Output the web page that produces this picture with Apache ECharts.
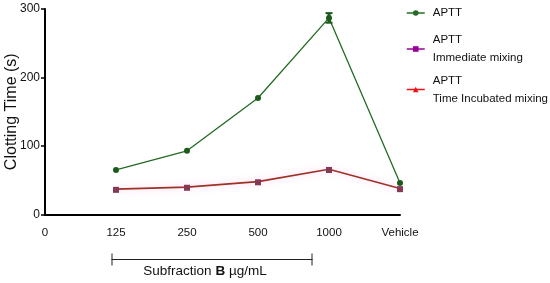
<!DOCTYPE html>
<html><head><meta charset="utf-8">
<script src="https://cdn.jsdelivr.net/npm/echarts@6/dist/echarts.min.js"></script>
<style>html,body{margin:0;padding:0;background:#fff}#c{width:550px;height:283px}</style>
</head><body><div id="c"></div>
<script>
const categories = ['0', '125', '250', '500', '1000', 'Vehicle'];
const aptt = [null, 65, 93, 170, 287, 46];
const apttErr = [null, 0, 0, 0, 7, 0];
const immediate = [null, 36, 39, 47, 65, 37];
const incubated = [null, 37, 40, 48, 66, 38];
const yTicks = [0, 100, 200, 300];
const seriesNames = ['APTT', 'APTT\nImmediate mixing', 'APTT\nTime Incubated mixing'];

const FONT = "'Liberation Sans',Arial,sans-serif";
const GREEN = '#236b23', PURPLE = '#990099', RED = '#ee1111';

const chart = echarts.init(document.getElementById('c'), null, {renderer: 'canvas'});

function legendBox(idx, top, color) {
  return {
    orient: 'vertical', left: 406, top: top, padding: 0,
    itemWidth: 18, itemHeight: 7,
    data: [{name: seriesNames[idx],
      itemStyle: {color: color, borderWidth: 0},
      lineStyle: {color: color, width: 1.5, opacity: 1}}],
    selectedMode: false,
    textStyle: {fontFamily: FONT, fontSize: 11.5, color: '#111', lineHeight: 18, padding: [0, 0, 0, 3]}
  };
}

chart.setOption({
  animation: false,
  backgroundColor: '#fff',
  grid: {left: 45, right: 150, top: 9, bottom: 68.5, outerBoundsMode: 'none', containLabel: false},
  legend: [
    legendBox(0, 4, GREEN),
    legendBox(1, 31, PURPLE),
    legendBox(2, 71.5, RED)
  ],
  xAxis: {
    type: 'category', data: categories, boundaryGap: false,
    axisLine: {lineStyle: {color: '#000', width: 2}},
    axisTick: {show: false},
    axisLabel: {fontFamily: FONT, fontSize: 11.5, color: '#111', margin: 12},
    splitLine: {show: false}
  },
  yAxis: {
    type: 'value', min: yTicks[0], max: yTicks[yTicks.length - 1], interval: 100,
    name: 'Clotting Time (s)', nameLocation: 'middle', nameGap: 25, nameMoveOverlap: false,
    nameTextStyle: {fontFamily: FONT, fontSize: 16, color: '#111'},
    axisLine: {show: true, lineStyle: {color: '#000', width: 2}},
    axisTick: {show: true, length: 4, lineStyle: {color: '#000', width: 1.5}},
    axisLabel: {fontFamily: FONT, fontSize: 12, color: '#111', margin: 5},
    splitLine: {show: false}
  },
  series: [
    {
      name: seriesNames[0], type: 'line', data: aptt, z: 4,
      symbol: 'circle', symbolSize: 6,
      itemStyle: {color: '#1c5a1c'},
      lineStyle: {color: GREEN, width: 1.3}
    },
    {
      type: 'custom', z: 5, silent: true,
      data: aptt.map((v, i) => [i, v, apttErr[i]]).filter(d => d[1] != null && d[2] > 0),
      renderItem: function (params, api) {
        const x = api.value(0), y = api.value(1), e = api.value(2);
        const hi = api.coord([x, y + e]), lo = api.coord([x, y - e]);
        const w = 3.5;
        const st = {stroke: '#1c5a1c', lineWidth: 2};
        return {type: 'group', children: [
          {type: 'line', shape: {x1: hi[0], y1: hi[1], x2: lo[0], y2: lo[1]}, style: {stroke: '#1c5a1c', lineWidth: 3}},
          {type: 'line', shape: {x1: hi[0] - w, y1: hi[1], x2: hi[0] + w, y2: hi[1]}, style: st},
          {type: 'line', shape: {x1: lo[0] - w, y1: lo[1], x2: lo[0] + w, y2: lo[1]}, style: st}
        ]};
      }
    },
    {
      name: seriesNames[2], type: 'line', data: incubated, z: 2,
      symbol: 'triangle', symbolSize: 5,
      itemStyle: {color: RED},
      lineStyle: {color: '#9e3224', width: 1.6, shadowColor: 'rgba(255,120,230,0.45)', shadowBlur: 7}
    },
    {
      name: seriesNames[1], type: 'line', data: immediate, z: 3,
      symbol: 'rect', symbolSize: 6,
      itemStyle: {color: '#843a55'},
      lineStyle: {width: 0, opacity: 0}
    }
  ],
  graphic: [
    {type: 'group', left: 109, top: 251, children: [
      {type: 'line', shape: {x1: 0, y1: 6, x2: 201, y2: 6}, style: {stroke: '#222', lineWidth: 1}},
      {type: 'line', shape: {x1: 0.5, y1: 0, x2: 0.5, y2: 12}, style: {stroke: '#222', lineWidth: 1}},
      {type: 'line', shape: {x1: 200.5, y1: 0, x2: 200.5, y2: 12}, style: {stroke: '#222', lineWidth: 1}}
    ]},
    {type: 'text', x: 205, y: 271, style: {
      text: '{a|Subfraction }{b|B}{a| µg/mL}',
      align: 'center', verticalAlign: 'middle',
      rich: {
        a: {fontFamily: FONT, fontSize: 13.5, fill: '#111'},
        b: {fontFamily: FONT, fontSize: 13.5, fontWeight: 'bold', fill: '#111'}
      }
    }}
  ]
});
</script></body></html>
